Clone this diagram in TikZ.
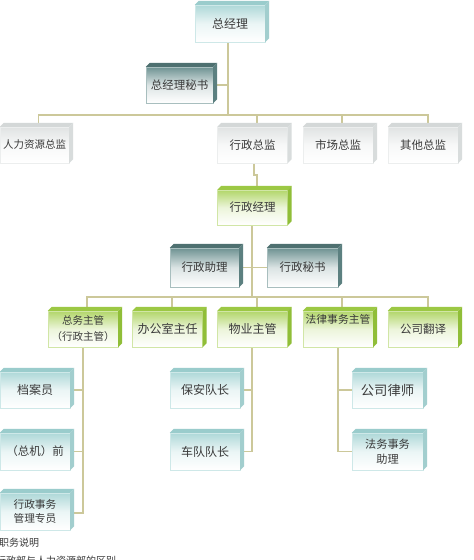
\documentclass[tikz,border=0pt]{standalone}
\usepackage{fontspec}
\newfontfamily\cjk{Noto Sans CJK SC}
\usetikzlibrary{backgrounds}
\definecolor{tealF}{HTML}{AED8D8}\definecolor{tealT}{HTML}{9ACCCC}\definecolor{tealS}{HTML}{A2CECE}
\definecolor{darkF}{HTML}{6E9292}\definecolor{darkT}{HTML}{4E7070}\definecolor{darkS}{HTML}{5C8080}
\definecolor{grayF}{HTML}{E0E3E3}\definecolor{grayT}{HTML}{D4D8D8}\definecolor{grayS}{HTML}{D8DCDC}
\definecolor{greenF}{HTML}{B2D66A}\definecolor{greenT}{HTML}{9CC844}\definecolor{greenS}{HTML}{90BE38}
\definecolor{linec}{HTML}{CCC89A}
\definecolor{txt}{HTML}{3A3A3A}
\tikzset{
  box/.style={inner sep=0pt, minimum width=70pt, minimum height=36pt, align=center,
    text=txt, font=\cjk\fontsize{11.5}{14}\selectfont},
  conn/.style={draw=linec, line width=1.6pt},
  note/.style={anchor=west, inner sep=0pt, text=txt, font=\cjk\fontsize{10}{12}\selectfont}
}
\newcommand\cube[5][]{%
  \node[box,top color=#4F,bottom color=white,middle color=#4F!25!white,
        draw=#4F!60!white,line width=0.4pt,#1] (#2) at (#3) {#5};
  \fill[#4T] (#2.north west) -- (#2.north east) -- ++(4,-4) -- ([shift={(4,-4)}]#2.north west) -- cycle;
  \fill[#4S] (#2.north east) -- ++(4,-4) -- ([shift={(4,-4)}]#2.south east) -- (#2.south east) -- cycle;
}
\begin{document}
\begin{tikzpicture}[x=1pt,y=-1pt]
\useasboundingbox (0,0) rectangle (474,560);
% row 1
\cube[minimum height=37pt,font=\cjk\fontsize{12}{14}\selectfont]{gm}{230,23.5}{teal}{总经理}
\cube[minimum width=67pt]{gms}{179.5,85}{dark}{总经理秘书}
% row 2
\cube[font=\cjk\fontsize{10.5}{13}\selectfont,minimum width=69pt]{hr}{34.5,145}{gray}{人力资源总监}
\cube{xzzj}{252.5,145}{gray}{行政总监}
\cube{sc}{338,145}{gray}{市场总监}
\cube{qt}{423,145}{gray}{其他总监}
% row 3
\cube[minimum height=35pt]{xzjl}{252.5,207.5}{green}{行政经理}
\cube[minimum height=39pt,minimum width=69pt]{xzzl}{204.5,267.5}{dark}{行政助理}
\cube[minimum height=39pt,minimum width=71pt]{xzms}{302.5,267.5}{dark}{行政秘书}
% row 4
\cube[font=\cjk\fontsize{10.5}{16}\selectfont]{zw}{83,329}{green}{\raisebox{3pt}{\begin{tabular}{@{}c@{}}总务主管\\（行政主管）\end{tabular}}}
\cube[font=\cjk\fontsize{12}{14}\selectfont]{bgs}{167.5,329}{green}{办公室主任}
\cube[font=\cjk\fontsize{12}{14}\selectfont]{wy}{252.5,329}{green}{物业主管}
\cube[font=\cjk\fontsize{10.8}{13}\selectfont]{fl}{338,329}{green}{\raisebox{20pt}{法律事务主管}}
\cube{fy}{423,329}{green}{公司翻译}
% row 5
\cube[font=\cjk\fontsize{12}{14}\selectfont]{da}{35,390}{teal}{档案员}
\cube[minimum height=37pt]{zj}{35,451.5}{teal}{（总机）前}
\cube[minimum height=37pt,font=\cjk\fontsize{10.7}{14}\selectfont]{xzsw}{35,511.5}{teal}{行政事务\\管理专员}
\cube[font=\cjk\fontsize{12}{14}\selectfont]{ba}{205,390}{teal}{保安队长}
\cube[minimum height=37pt,font=\cjk\fontsize{12}{14}\selectfont]{cd}{205,451.5}{teal}{车队队长}
\cube[minimum width=71pt,font=\cjk\fontsize{13.3}{15}\selectfont]{ls}{387.5,390}{teal}{公司律师}
\cube[minimum width=71pt,minimum height=37pt,font=\cjk\fontsize{11.2}{15}\selectfont]{fw}{387.5,451.5}{teal}{法务事务\\助理}
% notes
\node[note] (n1) at (-1,543) {职务说明};
\node[note] (n2) at (-4,561) {行政部与人力资源部的区别};
% connectors
\begin{pgfonlayer}{background}
\fill[white] (0,0) rectangle (474,560);
\coordinate (b1) at (228,115);
\coordinate (b2) at (252,297);
\draw[conn] ([xshift=-2pt]gm.south) -- (b1);
\draw[conn] (gms.east) -| ([xshift=-2pt]gm.south);
\draw[conn] ([xshift=4pt]hr.north) |- (b1) -| ([xshift=5pt]qt.north);
\draw[conn] ([xshift=4.5pt]xzzj.north) |- (b1);
\draw[conn] ([xshift=4pt]sc.north) |- (b1);
\draw[conn] ([xshift=1.5pt]xzzj.south) -- ++(0,12) -| ([xshift=4.5pt]xzjl.north);
\draw[conn] ([xshift=-0.5pt]xzjl.south) -- (b2);
\draw[conn] (xzzl.east) -- (xzms.west);
\draw[conn] ([xshift=4pt]zw.north) |- (b2) -| ([xshift=5pt]fy.north);
\draw[conn] ([xshift=4.5pt]bgs.north) |- (b2);
\draw[conn] ([xshift=4.5pt]wy.north) |- (b2);
\draw[conn] ([xshift=4pt]fl.north) |- (b2);
\draw[conn] (zw.south) |- ([yshift=-1.5pt]xzsw.east);
\draw[conn] (da.east) -| (zw.south);
\draw[conn] (zj.east) -| (zw.south);
\draw[conn] ([xshift=-0.5pt]wy.south) |- (cd.east);
\draw[conn] (ba.east) -| ([xshift=-0.5pt]wy.south);
\draw[conn] (fl.south) |- (fw.west);
\draw[conn] (ls.west) -| (fl.south);
\end{pgfonlayer}
\end{tikzpicture}
\end{document}
